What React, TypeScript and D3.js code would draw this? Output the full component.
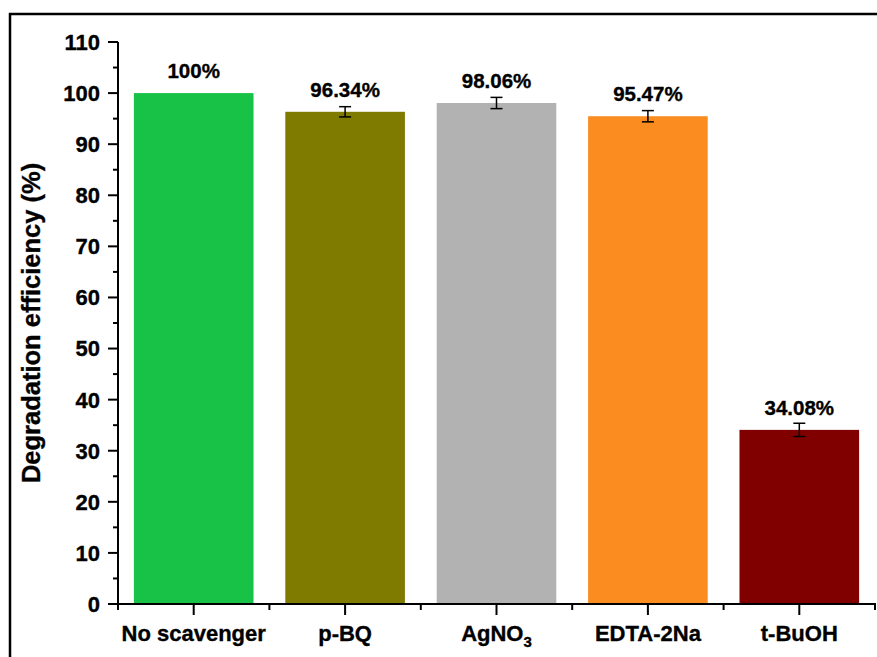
import React from "react";
import * as d3 from "d3";

const categories = ["No scavenger", "p-BQ", "AgNO3", "EDTA-2Na", "t-BuOH"];
const values = [100, 96.34, 98.06, 95.47, 34.08];
const errors = [0, 1.0, 1.1, 1.1, 1.3];
const valueLabels = ["100%", "96.34%", "98.06%", "95.47%", "34.08%"];
const colors = ["#17C247", "#7F7A00", "#B2B2B2", "#FB8C1F", "#800000"];
const yTicks = [0, 10, 20, 30, 40, 50, 60, 70, 80, 90, 100, 110];
const yMinorTicks = [5, 15, 25, 35, 45, 55, 65, 75, 85, 95, 105];

const W = 877;
const H = 657;
const left = 118;
const right = 875;
const top = 42;
const bottom = 604;
const font = "Arial, 'Liberation Sans', sans-serif";

export default function App() {
  const y = d3.scaleLinear().domain([0, 110]).range([bottom, top]);
  const x = d3
    .scaleBand<string>()
    .domain(categories)
    .range([left, right])
    .paddingInner(0.21)
    .paddingOuter(0.105);
  const step = x.step();
  const boundaries = categories.map((c) => (x(c) as number) - (step * 0.21) / 2);
  boundaries.push(right);
  const textStyle = { stroke: "#000", strokeWidth: 0.35 };

  return (
    <svg
      width={W}
      height={H}
      style={{ position: "absolute", left: 0, top: 0, background: "#fff" }}
      fontFamily={font}
    >
      <rect x={0} y={0} width={W} height={H} fill="#fff" />
      <rect x={10} y={14} width={W + 10} height={H + 10} fill="none" stroke="#000" strokeWidth={2.5} />

      {categories.map((c, i) => {
        const bx = x(c) as number;
        const cx = bx + x.bandwidth() / 2;
        return (
          <g key={c}>
            <rect x={bx} y={y(values[i])} width={x.bandwidth()} height={bottom - y(values[i])} fill={colors[i]} />
            {errors[i] > 0 && (
              <g stroke="#000" strokeWidth={1.5}>
                <line x1={cx} x2={cx} y1={y(values[i] - errors[i])} y2={y(values[i] + errors[i])} />
                <line x1={cx - 6} x2={cx + 6} y1={y(values[i] - errors[i])} y2={y(values[i] - errors[i])} />
                <line x1={cx - 6} x2={cx + 6} y1={y(values[i] + errors[i])} y2={y(values[i] + errors[i])} />
              </g>
            )}
            <text
              x={cx}
              y={y(values[i]) - 15}
              textAnchor="middle"
              fontSize={20.5}
              fontWeight="bold"
              fill="#000"
              style={textStyle}
            >
              {valueLabels[i]}
            </text>
          </g>
        );
      })}

      {/* Y axis */}
      <line x1={left} x2={left} y1={top} y2={bottom + 1} stroke="#000" strokeWidth={2} />
      {yTicks.map((t) => (
        <g key={t}>
          <line x1={left - 10} x2={left} y1={y(t)} y2={y(t)} stroke="#000" strokeWidth={2} />
          <text
            x={left - 18}
            y={y(t)}
            dy="0.36em"
            textAnchor="end"
            fontSize={22}
            fontWeight="bold"
            fill="#000"
            style={textStyle}
          >
            {t}
          </text>
        </g>
      ))}
      {yMinorTicks.map((t) => (
        <line key={t} x1={left - 5} x2={left} y1={y(t)} y2={y(t)} stroke="#000" strokeWidth={2} />
      ))}

      {/* X axis */}
      <line x1={left - 1} x2={right + 1} y1={bottom} y2={bottom} stroke="#000" strokeWidth={2} />
      {categories.map((c) => {
        const cx = (x(c) as number) + x.bandwidth() / 2;
        return <line key={c} x1={cx} x2={cx} y1={bottom} y2={bottom + 11} stroke="#000" strokeWidth={2} />;
      })}
      {boundaries.map((b, i) => (
        <line key={i} x1={b} x2={b} y1={bottom} y2={bottom + 6} stroke="#000" strokeWidth={2} />
      ))}
      {categories.map((c) => {
        const cx = (x(c) as number) + x.bandwidth() / 2;
        if (c === "AgNO3") {
          return (
            <text key={c} x={cx} y={641} textAnchor="middle" fontSize={22} fontWeight="bold" fill="#000" style={textStyle}>
              AgNO
              <tspan fontSize={15} dy={6}>3</tspan>
            </text>
          );
        }
        return (
          <text key={c} x={cx} y={641} textAnchor="middle" fontSize={22} fontWeight="bold" fill="#000" style={textStyle}>
            {c}
          </text>
        );
      })}

      <text
        transform={`translate(40, ${(top + bottom) / 2}) rotate(-90)`}
        textAnchor="middle"
        fontSize={25.5}
        fontWeight="bold"
        fill="#000"
        style={textStyle}
      >
        Degradation efficiency (%)
      </text>
    </svg>
  );
}
